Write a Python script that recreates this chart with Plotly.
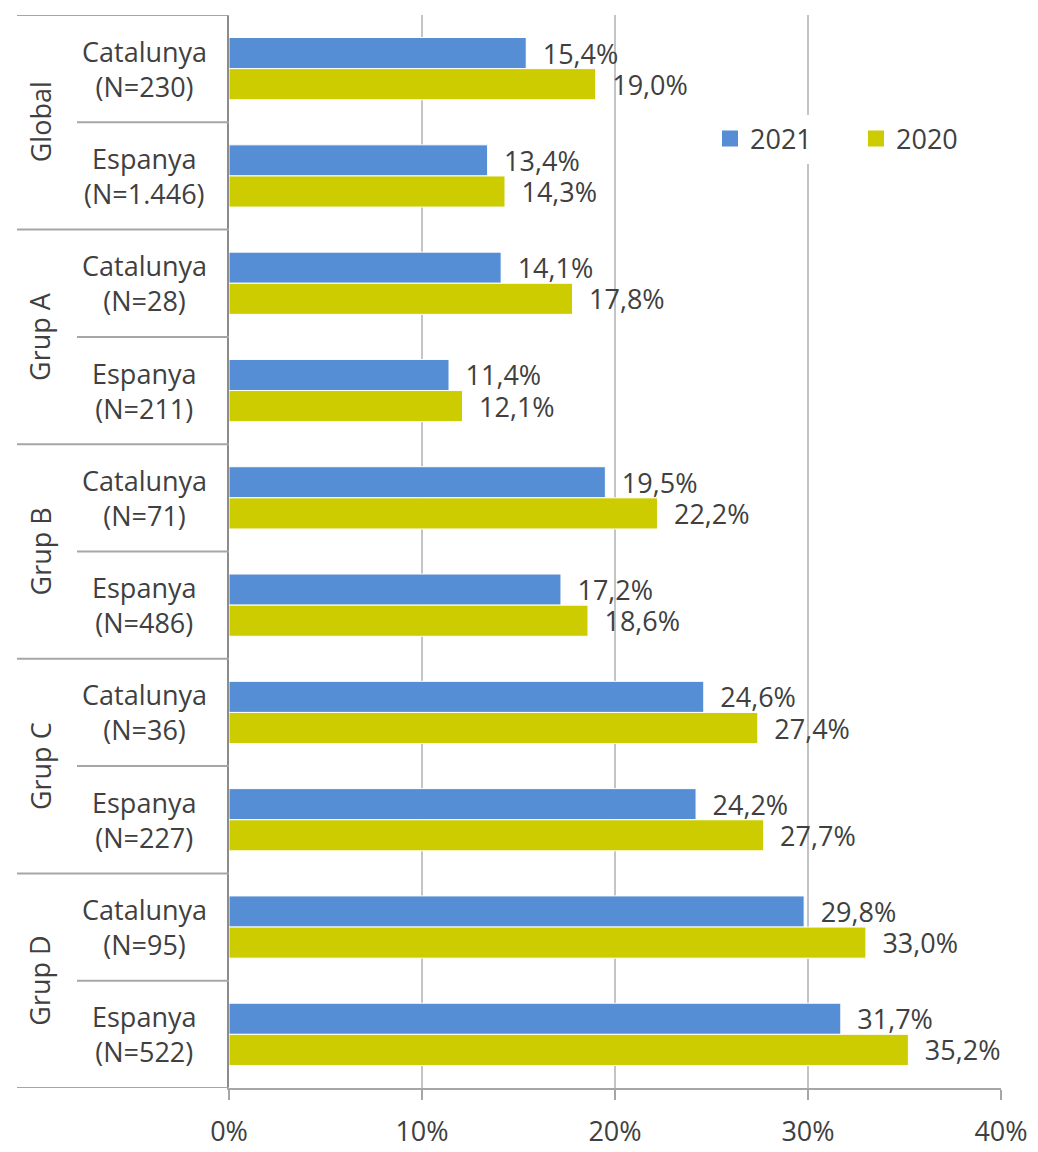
import plotly.graph_objects as go

groups = ["Global", "Grup A", "Grup B", "Grup C", "Grup D"]
categories = [
    "Catalunya<br>(N=230)", "Espanya<br>(N=1.446)",
    "Catalunya<br>(N=28)", "Espanya<br>(N=211)",
    "Catalunya<br>(N=71)", "Espanya<br>(N=486)",
    "Catalunya<br>(N=36)", "Espanya<br>(N=227)",
    "Catalunya<br>(N=95)", "Espanya<br>(N=522)",
]
vals_2021 = [15.4, 13.4, 14.1, 11.4, 19.5, 17.2, 24.6, 24.2, 29.8, 31.7]
vals_2020 = [19.0, 14.3, 17.8, 12.1, 22.2, 18.6, 27.4, 27.7, 33.0, 35.2]
x_ticks = [0, 0.1, 0.2, 0.3, 0.4]

BLUE = "#558ED5"
YELLOW = "#CCCC00"
TXT = "#404040"
FONT = "Open Sans"

# page body has an 8px default margin, so the figure is drawn 8px smaller/shifted
OFF = 8
W, H = 1038 - OFF, 1152 - OFF
ML, MT = 229 - OFF, 15 - OFF
PW, PH = 772, 1073
MR, MB = W - ML - PW, H - MT - PH


def px_to_paper(px):
    return (px - OFF - ML) / PW


def py_to_paper(py):
    return 1 - (py - OFF - MT) / PH


def fmt(v):
    return f"{v:.1f}".replace(".", ",") + "%"


pos = list(range(len(categories)))

fig = go.Figure()
for name, vals, col in [("2021", vals_2021, BLUE), ("2020", vals_2020, YELLOW)]:
    fig.add_trace(go.Bar(
        y=pos, x=[v / 100 for v in vals], orientation="h", name=name,
        marker=dict(color=col, line=dict(color="white", width=1)),
        text=[fmt(v) for v in vals], texttemplate="\u2002%{text}",
        textposition="outside", constraintext="none", cliponaxis=False,
        textfont=dict(family=FONT, size=27, color=TXT),
        showlegend=False, hoverinfo="skip",
    ))
    # legend swatch
    fig.add_trace(go.Scatter(
        x=[None], y=[None], mode="markers", name=name,
        marker=dict(symbol="square", size=16, color=col),
    ))

# category separators on the left
for k in range(len(categories) + 1):
    x0 = 17 if k % 2 == 0 else 77
    fig.add_shape(type="line", xref="paper", yref="y",
                  x0=px_to_paper(x0), x1=0, y0=k - 0.5, y1=k - 0.5,
                  line=dict(color="#A6A6A6", width=2))

for i, c in enumerate(categories):
    fig.add_annotation(xref="paper", yref="y", x=px_to_paper(144), y=i,
                       xanchor="center", yanchor="middle",
                       text=c, showarrow=False, align="center",
                       font=dict(family=FONT, size=27, color=TXT))

for g, name in enumerate(groups):
    fig.add_annotation(xref="paper", yref="y", x=px_to_paper(40), y=2 * g + 0.5,
                       xanchor="center", yanchor="middle",
                       text=name, showarrow=False, textangle=-90,
                       font=dict(family=FONT, size=27, color=TXT))

fig.update_layout(
    width=W, height=H,
    margin=dict(l=ML, r=MR, t=MT, b=MB),
    paper_bgcolor="white", plot_bgcolor="white",
    barmode="group", bargap=0.42, bargroupgap=0,
    font=dict(family=FONT, size=27, color=TXT),
    legend=dict(orientation="h", x=px_to_paper(710), xanchor="left",
                y=py_to_paper(139), yanchor="middle",
                bgcolor="white", entrywidth=101,
                font=dict(family=FONT, size=27, color=TXT)),
    xaxis=dict(range=[0, 0.4], tickvals=x_ticks, tickformat=".0%",
               showgrid=True, gridcolor="#C4C4C4", gridwidth=2,
               showline=True, linecolor="#A6A6A6", linewidth=2,
               ticks="outside", ticklen=10, tickcolor="#A6A6A6", tickwidth=2,
               ticklabelstandoff=9, zeroline=False, fixedrange=True,
               automargin=False),
    yaxis=dict(range=[len(categories) - 0.5, -0.5], showticklabels=False,
               showgrid=False, zeroline=False, showline=True,
               linecolor="#8C8C8C", linewidth=2, fixedrange=True,
               automargin=False),
)

fig.write_html("out.html")
